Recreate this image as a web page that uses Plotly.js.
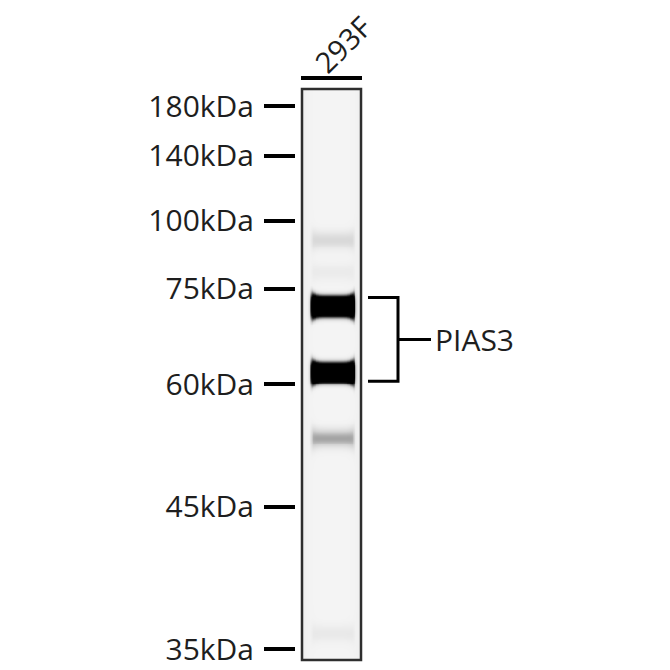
<!DOCTYPE html>
<html>
<head>
<meta charset="utf-8">
<script src="https://cdn.plot.ly/plotly-3.0.1.min.js"></script>
<style>
  html, body { margin: 0; padding: 0; background: #fff; }
  #blot { width: 670px; height: 670px; }
</style>
</head>
<body>
<div id="blot"></div>
<script>
// Western blot, one lane (293F), probed for PIAS3
// y = migration distance down the lane, 0 = top of lane, 100 = bottom
const laneName = '293F';
const markerLabels = ['180kDa', '140kDa', '100kDa', '75kDa', '60kDa', '45kDa', '35kDa'];
const markerPos = [3.0, 11.7, 23.1, 35.0, 51.7, 73.2, 98.1];

// bands seen in the lane: migration and relative darkness
const bandPos = [26.4, 32.0, 38.0, 49.6, 61.1, 95.3];
const bandStrength = [0.12, 0.04, 1.0, 1.0, 0.28, 0.05];

const targetName = 'PIAS3';
const targetBands = [38.0, 49.6];

const FONT = '"Open Sans", "Noto Sans", sans-serif';
const W = 670, H = 670;
const px = v => v / W;
const py = v => 1 - v / H;

// build the lane image from the band list
const nx = 80, ny = 600;
const xs = [], ys = [];
for (let i = 0; i < nx; i++) xs.push((i + 0.5) / nx);
for (let j = 0; j < ny; j++) ys.push((j + 0.5) * 100 / ny);

function across(x) {
  // band spans most of the lane width with fairly sharp ends
  const d = Math.abs(x - 0.52) - 0.36;
  return 1 / (1 + Math.exp(d / 0.014));
}
function flare(x) {
  // bands get a little thicker towards their ends
  const d = Math.abs(x - 0.52) / 0.36;
  return 1 + 0.35 * Math.pow(Math.min(d, 1), 6);
}

const z = ys.map(y => xs.map(x => {
  let v = 0.035 * Math.exp(-x / 0.07) + 0.035 * Math.exp(-(1 - x) / 0.07);
  bandPos.forEach((p, k) => {
    const s = bandStrength[k];
    const strong = s > 0.5;
    const sig = (strong ? 1.35 : 1.0) * flare(x);
    const amp = strong ? 2.2 * s : s;
    const t = (y - p) / sig;
    const prof = strong ? Math.exp(-Math.pow(t * t, 1.6) / 2) : Math.exp(-t * t / 2);
    v += amp * prof * across(x);
  });
  return Math.min(1, v);
}));

const trace = {
  type: 'heatmap',
  x: xs, y: ys, z: z,
  zmin: 0, zmax: 1,
  zsmooth: 'best',
  showscale: false,
  hoverinfo: 'skip',
  colorscale: [[0, '#f4f4f4'], [0.15, '#d2d2d2'], [0.4, '#7a7a7a'], [0.7, '#1e1e1e'], [1, '#000000']]
};

const bTop = targetBands[0] - 1.5;
const bBot = targetBands[1] + 1.6;
const bMid = (bTop + bBot) / 2;

const layout = {
  width: W, height: H,
  margin: { l: 0, r: 0, t: 0, b: 0 },
  paper_bgcolor: '#fff',
  plot_bgcolor: '#fff',
  showlegend: false,
  xaxis: { domain: [px(302), px(361)], range: [0, 1], visible: false, fixedrange: true },
  yaxis: {
    domain: [py(660), py(89)],
    range: [100, 0],
    anchor: 'free',
    position: px(295),
    tickvals: markerPos,
    ticktext: markerLabels,
    ticks: 'outside',
    ticklen: 31,
    tickwidth: 4,
    tickcolor: '#000',
    ticklabelstandoff: 4,
    showgrid: false,
    zeroline: false,
    showline: false,
    fixedrange: true,
    tickfont: { family: FONT, size: 30, color: '#1e1e1e' }
  },
  shapes: [
    // lane frame
    { type: 'rect', xref: 'x domain', yref: 'y domain', x0: 0, x1: 1, y0: 0, y1: 1,
      line: { color: '#2e2e2e', width: 2.5 } },
    // line over the lane label
    { type: 'line', xref: 'paper', yref: 'paper', x0: px(301), x1: px(362), y0: py(78), y1: py(78),
      line: { color: '#000', width: 4 } },
    // bracket for the target bands
    { type: 'path', xref: 'paper', yref: 'y',
      path: `M ${px(368)},${bTop} L ${px(398)},${bTop} L ${px(398)},${bBot} L ${px(368)},${bBot}`,
      line: { color: '#000', width: 3 } },
    { type: 'line', xref: 'paper', yref: 'y', x0: px(398), x1: px(431), y0: bMid, y1: bMid,
      line: { color: '#000', width: 3 } }
  ],
  annotations: [
    { text: laneName, xref: 'paper', yref: 'paper', x: px(342), y: py(44),
      xanchor: 'center', yanchor: 'middle', textangle: -45, showarrow: false,
      font: { family: FONT, size: 29, color: '#1e1e1e' } },
    { text: targetName, xref: 'paper', yref: 'y', x: px(433), y: bMid,
      xanchor: 'left', yanchor: 'middle', showarrow: false,
      font: { family: FONT, size: 30, color: '#1e1e1e' } }
  ]
};

Plotly.newPlot('blot', [trace], layout, { displayModeBar: false, staticPlot: true });
</script>
</body>
</html>
